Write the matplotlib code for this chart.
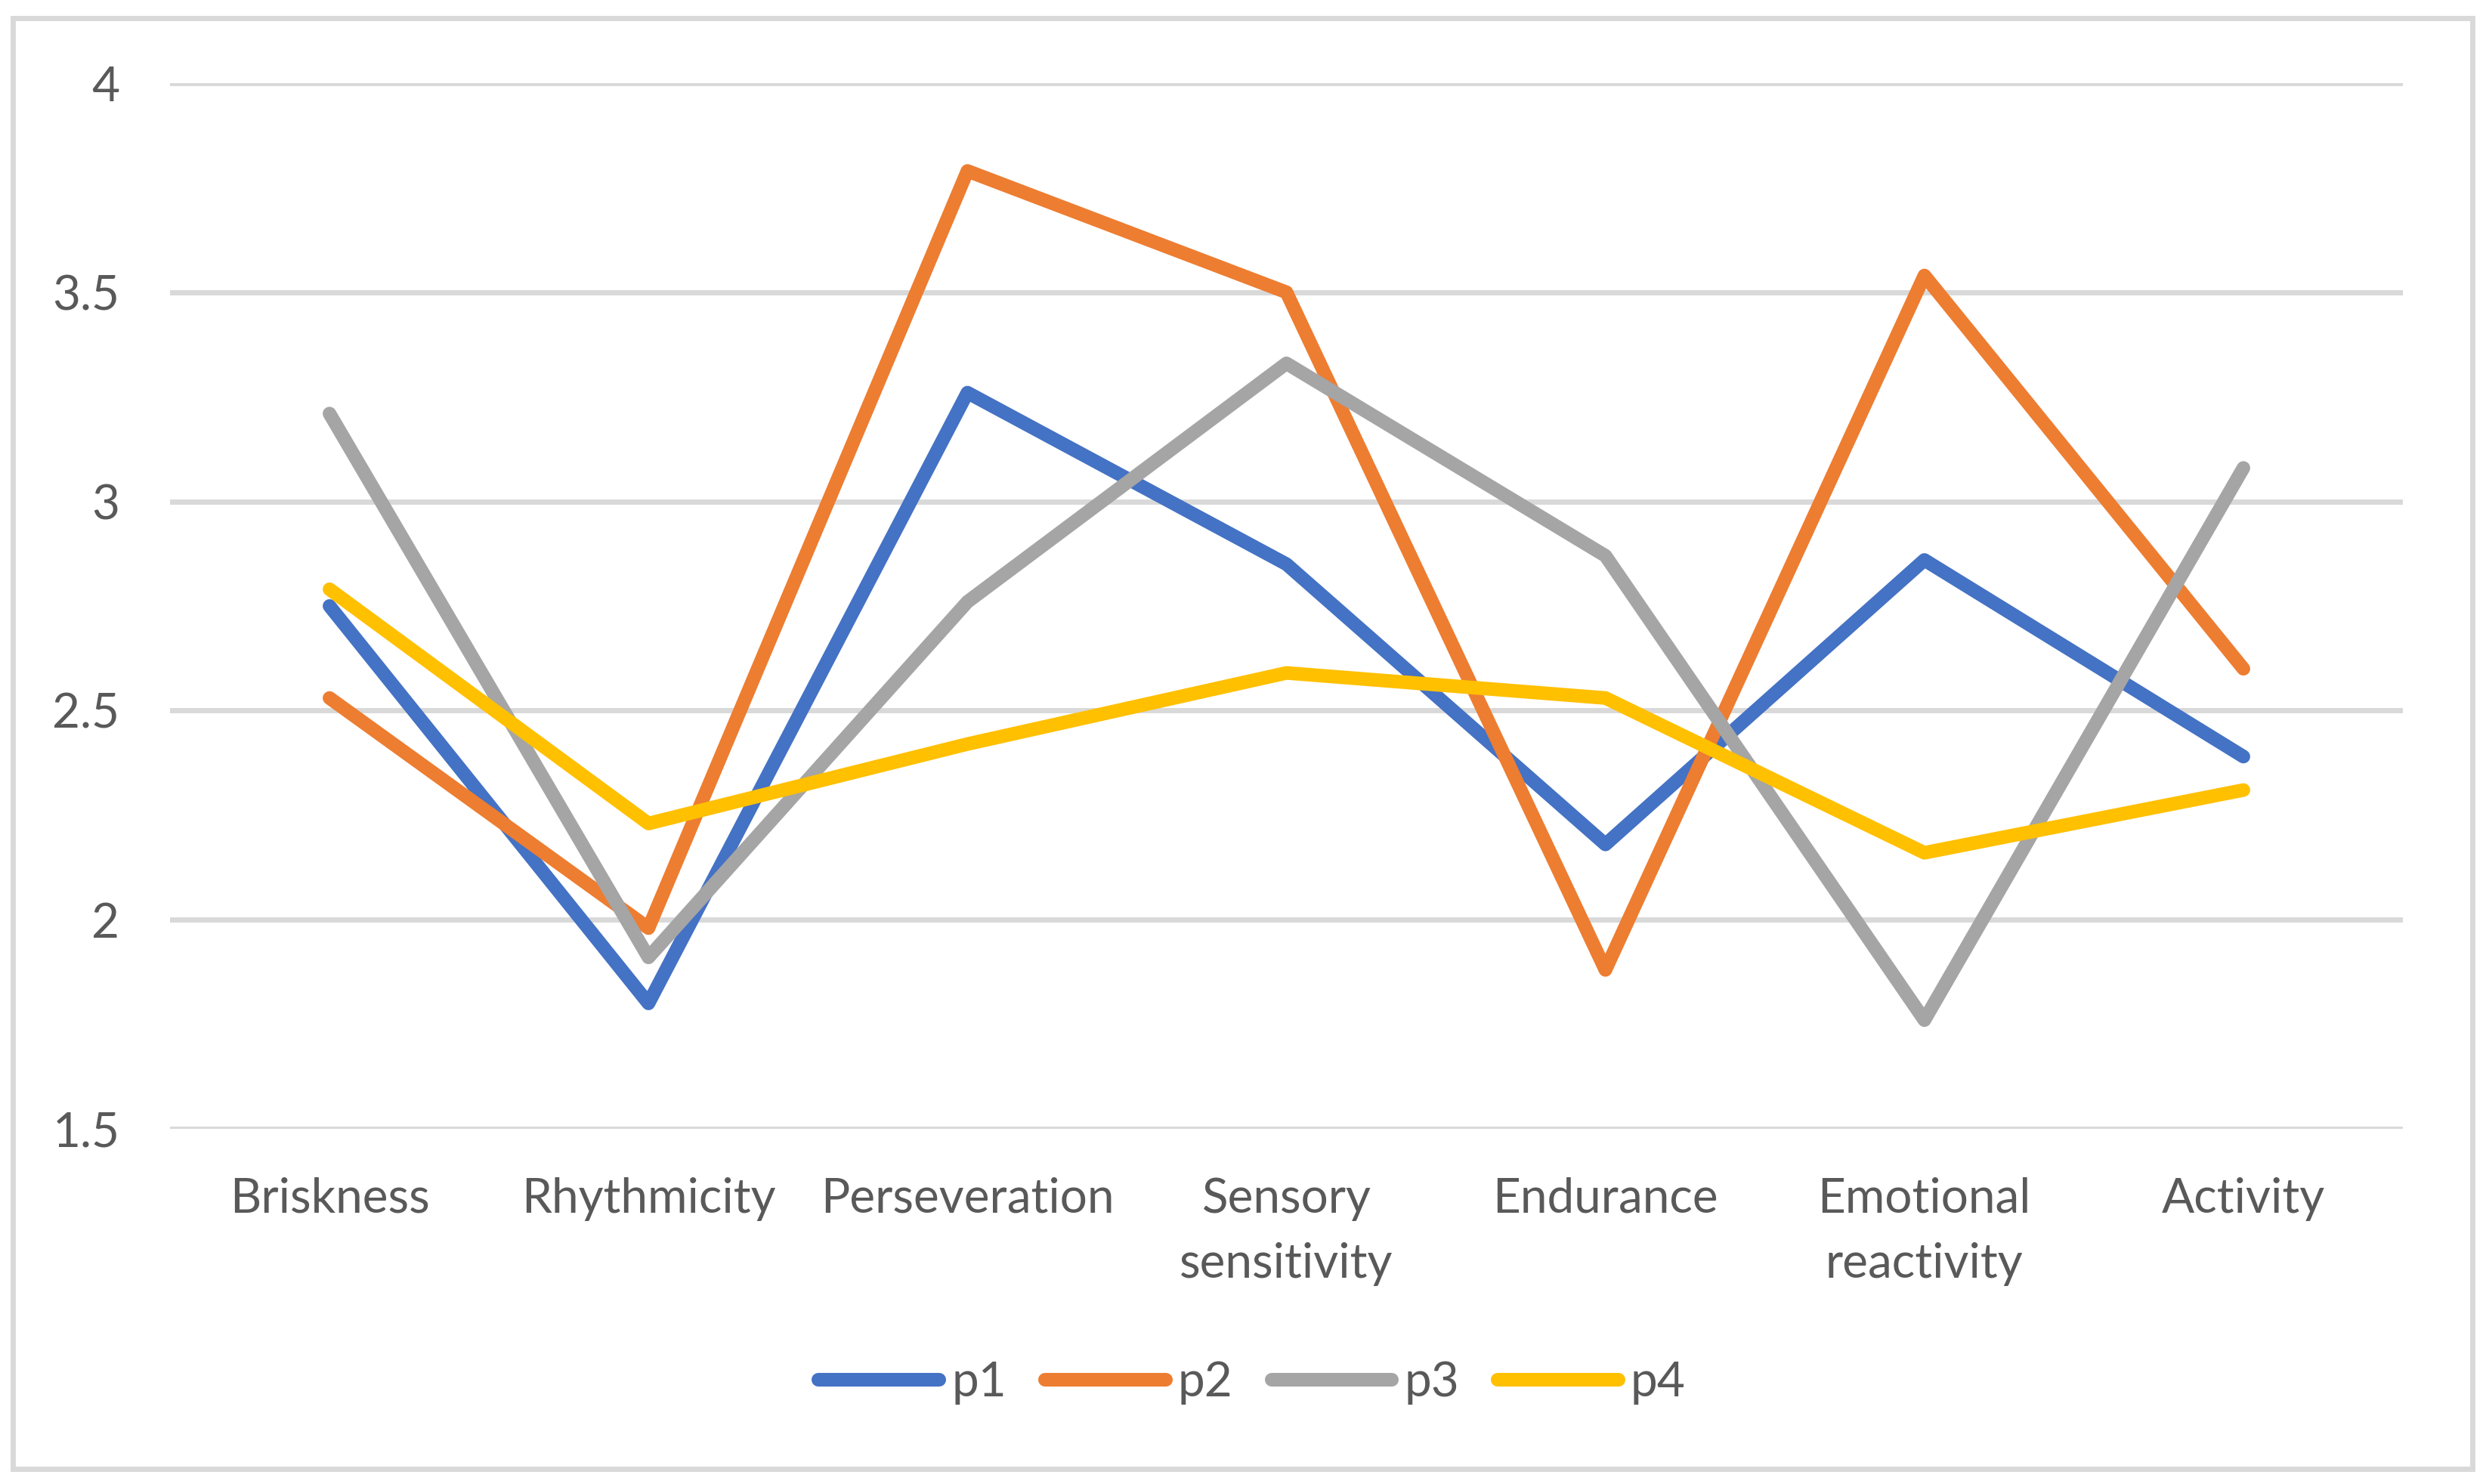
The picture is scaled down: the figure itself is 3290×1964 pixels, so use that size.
import matplotlib
matplotlib.use("Agg")
import matplotlib.pyplot as plt
from matplotlib.patches import Rectangle

# traits on the x axis, scores for four people
categories = ["Briskness", "Rhythmicity", "Perseveration", "Sensory\nsensitivity",
              "Endurance", "Emotional\nreactivity", "Activity"]
p1 = [2.75, 1.80, 3.26, 2.85, 2.18, 2.86, 2.39]
p2 = [2.53, 1.98, 3.79, 3.50, 1.88, 3.54, 2.60]
p3 = [3.21, 1.91, 2.76, 3.33, 2.87, 1.76, 3.08]
p4 = [2.79, 2.23, 2.42, 2.59, 2.53, 2.16, 2.31]
series_names = ["p1", "p2", "p3", "p4"]
y_ticks = [1.5, 2, 2.5, 3, 3.5, 4]
y_tick_labels = ["1.5", "2", "2.5", "3", "3.5", "4"]

colors = ["#4472C4", "#ED7D31", "#A5A5A5", "#FFC000"]
text_color = "#595959"
grid_color = "#D9D9D9"

plt.rcParams["font.family"] = ["Lato", "DejaVu Sans"]

W, H = 3291, 1964
fig = plt.figure(figsize=(W / 100, H / 100), dpi=100)
ax = fig.add_axes([225 / W, 1 - 1494 / H, (3180 - 225) / W, (1494 - 110) / H])

x = list(range(len(categories)))
for vals, name, c in zip([p1, p2, p3, p4], series_names, colors):
    ax.plot(x, vals, color=c, lw=13, label=name,
            solid_capstyle="round", solid_joinstyle="round", zorder=3)

ax.set_xlim(-0.5, len(categories) - 0.5)
ax.set_ylim(1.5, 4)
ax.set_yticks(y_ticks)
ax.set_yticklabels(y_tick_labels)
ax.set_xticks(x)
ax.set_xticklabels(categories, linespacing=1.6)
ax.yaxis.grid(True, color=grid_color, lw=5, zorder=0)
ax.set_axisbelow(True)
for s in ax.spines.values():
    s.set_visible(False)
ax.tick_params(axis="both", length=0, labelsize=46, labelcolor=text_color)
ax.tick_params(axis="y", pad=48)
ax.tick_params(axis="x", pad=46)

leg = ax.legend(loc="center", bbox_to_anchor=(0.5035, 1 - 1830 / H),
                bbox_transform=fig.transFigure, ncol=4, frameon=False,
                fontsize=46, handlelength=2.5, handletextpad=0.25,
                columnspacing=0.8)
for t in leg.get_texts():
    t.set_color(text_color)

fig.patches.append(Rectangle((17 / W, 1 - 1944 / H), (3272 - 17) / W, (1944 - 24) / H,
                             transform=fig.transFigure, fill=False,
                             edgecolor=grid_color, lw=5))

fig.savefig("out.png", dpi=100, facecolor="white")
